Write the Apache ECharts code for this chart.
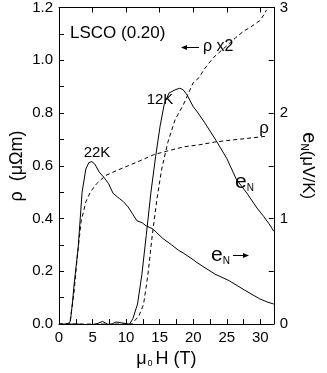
<!DOCTYPE html>
<html><head><meta charset="utf-8">
<script src="https://cdn.jsdelivr.net/npm/echarts@6/dist/echarts.min.js"></script>
<style>html,body{margin:0;padding:0;background:#fff}#c{width:327px;height:373px}</style>
</head><body><div id="c"></div>
<script>
// field H (T)
const e22 = [[0,0],[0.5,-0.02],[1.0,0.0],[1.5,0.01],[1.7,0.03],[2.0,0.2],[2.26,0.38],[2.85,0.72],[3.44,1.25],[4.0,1.47],[4.45,1.53],[4.9,1.54],[5.35,1.515],[6.0,1.44],[6.7,1.39],[7.4,1.33],[8.05,1.24],[9.0,1.19],[9.6,1.16],[10.3,1.11],[11.0,1.04],[11.6,0.98],[12.4,0.96],[13.0,0.93],[13.9,0.905],[14.5,0.87],[15.5,0.81],[16.8,0.75],[17.8,0.70],[18.6,0.67],[20.0,0.61],[20.4,0.59],[21.6,0.54],[23.2,0.475],[25.4,0.41],[27.7,0.32],[29.9,0.24],[31.0,0.21],[32,0.19]];
const e12 = [[0,0],[3,0.0],[4.5,-0.01],[5.5,0.0],[6.5,0.025],[7.5,-0.01],[8.5,0.02],[9.5,0.01],[10.5,0.0],[11,0.05],[11.7,0.19],[12.35,0.47],[13.0,0.84],[13.7,1.25],[14.4,1.59],[15.06,1.875],[15.7,2.09],[16.4,2.19],[17.3,2.22],[18.0,2.235],[18.5,2.22],[19.1,2.17],[20.0,2.06],[20.5,2.02],[21.7,1.91],[23.4,1.74],[25.0,1.57],[26.4,1.375],[28.0,1.24],[29.5,1.10],[30.5,1.02],[31.3,0.95],[32,0.88]];
const rho22 = [[0,0],[1.6,0.0],[2.26,0.125],[2.7,0.25],[3.3,0.39],[4.0,0.463],[4.66,0.50],[5.56,0.531],[6.9,0.5625],[8.5,0.581],[10.3,0.60],[11.7,0.615],[14.1,0.642],[16,0.655],[18.6,0.672],[21,0.68],[23.2,0.69],[25.5,0.697],[27.7,0.703],[29.5,0.708],[30.8,0.712]];
const rho12x2 = [[0,0],[10.8,0.0],[11.9,0.03],[12.6,0.075],[13.25,0.1875],[13.9,0.3375],[14.6,0.475],[15.3,0.5875],[16.2,0.6875],[17.3,0.775],[18.5,0.83],[20,0.915],[20.9,0.935],[21.6,0.965],[23,1.01],[25,1.055],[26.3,1.085],[27.5,1.11],[28.5,1.125],[29.9,1.15],[30.6,1.175],[30.9,1.19]];

const FONT = 'Liberation Sans, Arial, DejaVu Sans, sans-serif';
const chart = echarts.init(document.getElementById('c'), null, {renderer:'canvas'});
const axLine = () => ({show:true, onZero:false, lineStyle:{color:'#000', width:1}});
const tickIn = () => ({show:true, inside:true, length:5, lineStyle:{color:'#000', width:1}});
const lbl = () => ({color:'#000', fontSize:15, fontFamily:FONT, margin:6});
const solid = {color:'#000', width:1};
const dashed = {color:'#000', width:1, type:[4,3]};
chart.setOption({
  animation:false,
  backgroundColor:'#fff',
  grid:{left:59, right:32, top:7, bottom:46},
  xAxis:[{
    type:'value', min:0, max:32, interval:2.5, position:'bottom',
    axisLine:axLine(), axisTick:tickIn(), splitLine:{show:false},
    axisLabel:Object.assign(lbl(), {formatter:v => (Math.round(v*2)%10===0) ? String(Math.round(v)) : '', showMaxLabel:false}),
    name:'{a|μ}{s|0}{a|H (T)}', nameLocation:'middle', nameGap:20,
    nameTextStyle:{fontFamily:FONT, color:'#000', rich:{a:{fontSize:18, fontFamily:FONT, color:'#000', verticalAlign:'bottom'}, s:{fontSize:9, fontFamily:FONT, color:'#000', verticalAlign:'bottom', padding:[0,3,0,1]}}}
  },{
    type:'value', min:0, max:32, interval:5, position:'top',
    axisLine:axLine(), axisTick:tickIn(), splitLine:{show:false}, axisLabel:{show:false}
  }],
  yAxis:[{
    type:'value', min:0, max:1.2, interval:0.1, position:'left',
    axisLine:axLine(), axisTick:tickIn(), splitLine:{show:false},
    axisLabel:Object.assign(lbl(), {formatter:v => (Math.round(v*10)%2===0) ? v.toFixed(1) : ''})
  },{
    type:'value', min:0, max:3, interval:0.5, position:'right',
    axisLine:axLine(), axisTick:tickIn(), splitLine:{show:false},
    axisLabel:Object.assign(lbl(), {formatter:v => (Math.round(v*2)%2===0) ? String(Math.round(v)) : ''}),
    name:'{e|e}{n|N}{a|(μV/K)}', nameLocation:'middle', nameGap:14, nameRotate:-90,
    nameTextStyle:{fontFamily:FONT, color:'#000', rich:{e:{fontSize:20, fontFamily:FONT, color:'#000', verticalAlign:'bottom'}, n:{fontSize:10, fontFamily:FONT, color:'#000', verticalAlign:'bottom'}, a:{fontSize:17, fontFamily:FONT, color:'#000', verticalAlign:'bottom'}}}
  }],
  series:[
    {type:'line', name:'eN 22K', data:e22, yAxisIndex:1, showSymbol:false, lineStyle:solid, itemStyle:{color:'#000'}},
    {type:'line', name:'eN 12K', data:e12, yAxisIndex:1, showSymbol:false, lineStyle:solid, itemStyle:{color:'#000'}},
    {type:'line', name:'rho', data:rho22, yAxisIndex:0, showSymbol:false, lineStyle:dashed, itemStyle:{color:'#000'}},
    {type:'line', name:'rho x2', data:rho12x2, yAxisIndex:0, showSymbol:false, lineStyle:dashed, itemStyle:{color:'#000'}}
  ],
  graphic:[
    {type:'text', x:17, y:166, rotation:Math.PI/2, style:{text:'ρ  (μΩm)', fontSize:18, fontFamily:FONT, fill:'#000', align:'center', verticalAlign:'middle'}},
    {type:'text', left:70, top:25, style:{text:'LSCO (0.20)', fontSize:17, fontFamily:FONT, fill:'#000'}},
    {type:'text', x:97, y:153, style:{text:'22K', fontSize:15, fontFamily:FONT, fill:'#000', align:'center', verticalAlign:'middle'}},
    {type:'text', x:160, y:100, style:{text:'12K', fontSize:15, fontFamily:FONT, fill:'#000', align:'center', verticalAlign:'middle'}},
    {type:'line', shape:{x1:182, y1:47.5, x2:199, y2:47.5}, style:{stroke:'#000', lineWidth:1}},
    {type:'polygon', shape:{points:[[181,47.5],[187,45],[187,50]]}, style:{fill:'#000'}},
    {type:'text', x:203, y:47, style:{text:'ρ x2', fontSize:16, fontFamily:FONT, fill:'#000', align:'left', verticalAlign:'middle'}},
    {type:'text', x:264, y:128, style:{text:'ρ', fontSize:17, fontFamily:FONT, fill:'#000', align:'center', verticalAlign:'middle'}},
    {type:'text', x:235, y:172, style:{text:'{e|e}{n|N}', fill:'#000', rich:{e:{fontSize:21, fontFamily:FONT, fill:'#000', verticalAlign:'bottom'}, n:{fontSize:10, fontFamily:FONT, fill:'#000', verticalAlign:'bottom'}}}},
    {type:'text', x:211, y:245, style:{text:'{e|e}{n|N}', fill:'#000', rich:{e:{fontSize:21, fontFamily:FONT, fill:'#000', verticalAlign:'bottom'}, n:{fontSize:10, fontFamily:FONT, fill:'#000', verticalAlign:'bottom'}}}},
    {type:'line', shape:{x1:233, y1:255.5, x2:246, y2:255.5}, style:{stroke:'#000', lineWidth:1}},
    {type:'polygon', shape:{points:[[249,255.5],[243,253],[243,258]]}, style:{fill:'#000'}}
  ]
});
</script></body></html>
